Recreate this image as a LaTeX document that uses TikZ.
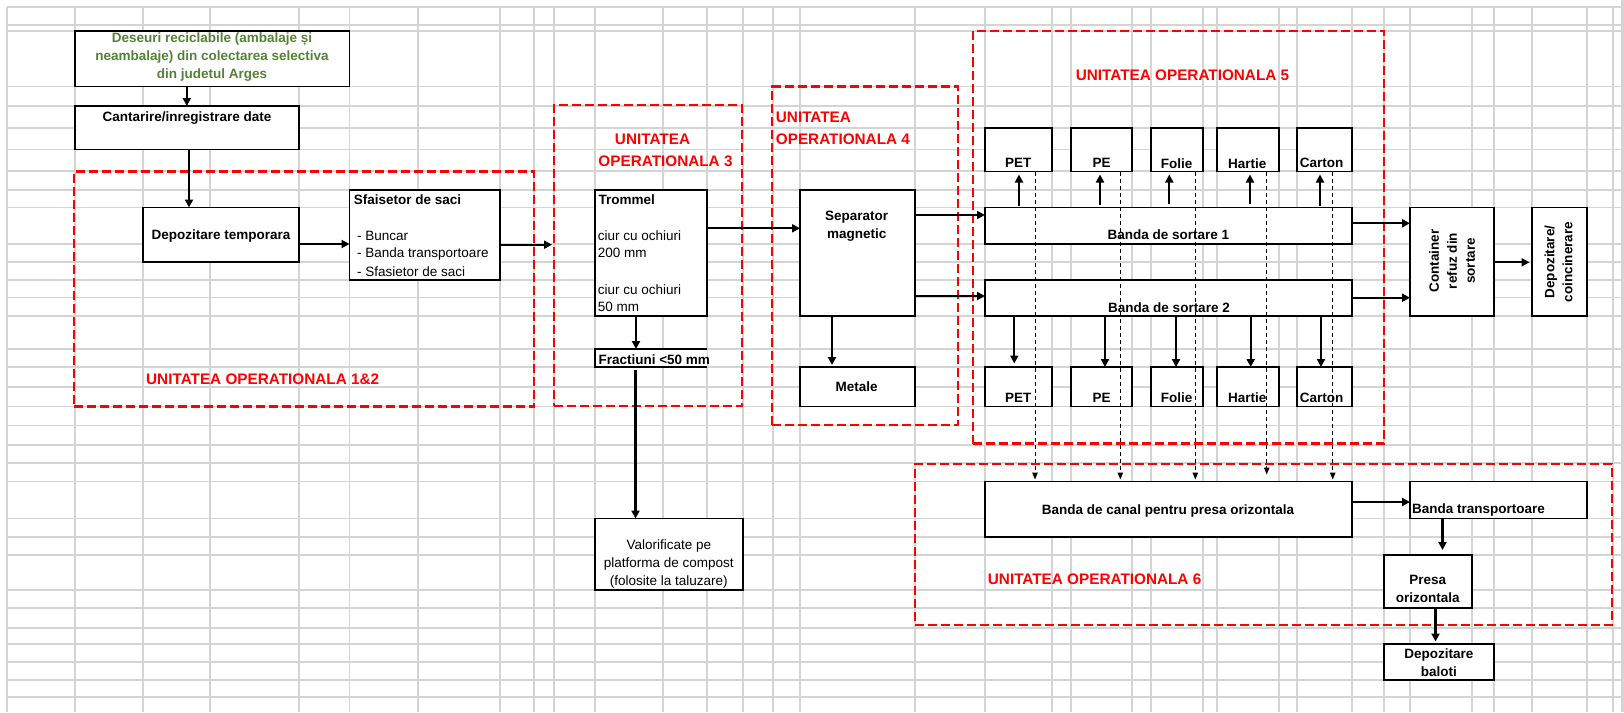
\documentclass[tikz,border=0pt]{standalone}
\usepackage{fontspec}
\setmainfont{Liberation Sans}
\usetikzlibrary{arrows.meta}
\definecolor{gridc}{RGB}{212,212,212}
\definecolor{olivegr}{RGB}{84,130,53}
\definecolor{uored}{RGB}{255,0,0}
\begin{document}
\begin{tikzpicture}[x=1pt,y=-1pt,
  box/.style={draw=black, line width=1.8pt, fill=white, inner sep=0pt, outer sep=0pt},
  openbox/.style={fill=white, inner sep=0pt, outer sep=0pt},
  uo/.style={draw=uored, line width=2.7pt, dash pattern=on 9pt off 4pt, inner sep=0pt, outer sep=0pt},
  arr/.style={line width=2.3pt, -{Triangle[length=8pt,width=8pt]}},
  darr/.style={line width=1pt, dash pattern=on 4pt off 3pt, -{Triangle[length=7pt,width=5.5pt]}},
  gridline/.style={draw=gridc, line width=1.3pt},
  btxt/.style={inner sep=0pt, font=\fontsize{13.5}{18}\selectfont\bfseries, align=center},
  ntxt/.style={inner sep=0pt, font=\fontsize{13.5}{18}\selectfont, align=center},
  uolbl/.style={inner sep=0pt, text=uored, font=\fontsize{15.3}{21}\selectfont\bfseries}
]
\fill[white] (0,0) rectangle (1624,712);
\useasboundingbox (0,0) rectangle (1624,712);
% spreadsheet grid
\foreach \gx in {7,75,143,210,299,349.5,418,500,534,554,595,663,707,743,773,800,915,985,1052,1071,1132,1151,1203,1217,1279,1297,1352,1384,1410,1472,1494,1532,1587,1613}
  \draw[gridline] (\gx,6.5) -- (\gx,712);
\foreach \gy in {7,25,31,86.5,106,128,149.5,171,190,207.5,244,262,280,297.5,316,349,367,387,406.5,425.5,445,463,481.5,518.5,537,555,590,608,628,644,662,680,697}
  \draw[gridline] (6.5,\gy) -- (1622,\gy);
\draw[draw=gridc, line width=2.5pt] (1622.5,0) -- (1622.5,712);

% operational units
\node[uo, minimum width=460pt, minimum height=235pt, anchor=north west] (uo12) at (74,171.5) {};
\node[uo, minimum width=188pt, minimum height=301pt, anchor=north west] (uo3) at (554,105) {};
\node[uo, minimum width=186pt, minimum height=338.5pt, anchor=north west] (uo4) at (772,86.5) {};
\node[uo, minimum width=411pt, minimum height=412.5pt, anchor=north west] (uo5) at (973,31) {};
\node[uo, minimum width=697pt, minimum height=161pt, anchor=north west] (uo6) at (915,464) {};

% boxes
\node[box, minimum width=274.5pt, minimum height=55.5pt] (des) at (212.25,58.75) {};
\node[box, minimum width=224pt, minimum height=43.5pt] (cant) at (187,127.75) {};
\node[box, minimum width=156pt, minimum height=54.5pt] (depo) at (221,234.75) {};
\node[box, minimum width=150.5pt, minimum height=90pt] (sfai) at (424.75,235) {};
\node[box, minimum width=112pt, minimum height=126pt] (trom) at (651,253) {};
\node[openbox, minimum width=112pt, minimum height=18pt] (frac) at (651,358) {};
\draw[line width=1.8pt] (frac.north east) -- (frac.north west) -- (frac.south west) -- (frac.south east);
\node[box, minimum width=148pt, minimum height=71.5pt] (valo) at (669,554.25) {};
\node[box, minimum width=115pt, minimum height=126pt] (sep) at (857.5,253) {};
\node[box, minimum width=115pt, minimum height=39.5pt] (metale) at (857.5,386.75) {};
\node[box, minimum width=367pt, minimum height=36.5pt] (b1) at (1168.5,225.75) {};
\node[box, minimum width=367pt, minimum height=36pt] (b2) at (1168.5,298) {};
\node[box, minimum width=67pt, minimum height=43.5pt] (petA) at (1018.5,149.75) {};
\node[box, minimum width=61pt, minimum height=43.5pt] (peA) at (1101.5,149.75) {};
\node[box, minimum width=52pt, minimum height=43.5pt] (folA) at (1177,149.75) {};
\node[box, minimum width=62pt, minimum height=43.5pt] (harA) at (1248,149.75) {};
\node[box, minimum width=55pt, minimum height=43.5pt] (carA) at (1324.5,149.75) {};
\node[box, minimum width=67pt, minimum height=39.5pt] (petB) at (1018.5,386.75) {};
\node[box, minimum width=61pt, minimum height=39.5pt] (peB) at (1101.5,386.75) {};
\node[box, minimum width=52pt, minimum height=39.5pt] (folB) at (1177,386.75) {};
\node[box, minimum width=62pt, minimum height=39.5pt] (harB) at (1248,386.75) {};
\node[box, minimum width=55pt, minimum height=39.5pt] (carB) at (1324.5,386.75) {};
\node[box, minimum width=84pt, minimum height=108.5pt] (cont) at (1452,261.75) {};
\node[box, minimum width=55pt, minimum height=108.5pt] (dc) at (1559.5,261.75) {};
\node[box, minimum width=367pt, minimum height=55.5pt] (bcanal) at (1168.5,509.25) {};
\node[box, minimum width=177pt, minimum height=37pt] (btrans) at (1498.5,500) {};
\node[box, minimum width=88pt, minimum height=53pt] (presa) at (1428,581.5) {};
\node[box, minimum width=110pt, minimum height=36pt] (baloti) at (1439,662) {};

% arrows
\draw[arr] (186.8,0 |- des.south) -- (186.8,0 |- cant.north);
\draw[arr] (189,0 |- cant.south) -- (189,0 |- depo.north);
\draw[arr] (depo.east |- 0,244) -- (sfai.west |- 0,244);
\draw[arr, shorten >=2pt] (sfai.east |- 0,244.7) -- (uo3.west |- 0,244.7);
\draw[arr] (trom.east |- 0,228.3) -- (sep.west |- 0,228.3);
\draw[arr] (636,0 |- trom.south) -- (636,0 |- frac.north);
\draw[arr, shorten <=3pt] (635.5,0 |- frac.south) -- (635.5,0 |- valo.north);
\draw[arr, shorten >=2pt] (832,0 |- sep.south) -- (832,0 |- metale.north);
\draw[arr] (sep.east |- 0,215) -- (b1.west |- 0,215);
\draw[arr] (sep.east |- 0,296) -- (b2.west |- 0,296);
\draw[arr, shorten <=2pt, shorten >=3pt] (1019,0 |- b1.north) -- (1019,0 |- petA.south);
\draw[arr, shorten <=3pt, shorten >=3pt] (1100,0 |- b1.north) -- (1100,0 |- peA.south);
\draw[arr, shorten <=4pt, shorten >=3pt] (1169.3,0 |- b1.north) -- (1169.3,0 |- folA.south);
\draw[arr, shorten <=3.5pt, shorten >=3pt] (1250,0 |- b1.north) -- (1250,0 |- harA.south);
\draw[arr, shorten <=2pt, shorten >=3pt] (1320,0 |- b1.north) -- (1320,0 |- carA.south);
\draw[arr, shorten >=3.5pt] (1014.3,0 |- b2.south) -- (1014.3,0 |- petB.north);
\draw[arr] (1105,0 |- b2.south) -- (1105,0 |- peB.north);
\draw[arr] (1176,0 |- b2.south) -- (1176,0 |- folB.north);
\draw[arr] (1250.7,0 |- b2.south) -- (1250.7,0 |- harB.north);
\draw[arr] (1321,0 |- b2.south) -- (1321,0 |- carB.north);
\draw[darr, shorten >=2pt] (1035,0 |- petA.south) -- (1035,0 |- bcanal.north);
\draw[darr, shorten >=2pt] (1120.3,0 |- peA.south) -- (1120.3,0 |- bcanal.north);
\draw[darr, shorten >=2pt] (1195.3,0 |- folA.south) -- (1195.3,0 |- bcanal.north);
\draw[darr, shorten >=7pt] (1266.7,0 |- harA.south) -- (1266.7,0 |- bcanal.north);
\draw[darr, shorten >=2pt] (1332.7,0 |- carA.south) -- (1332.7,0 |- bcanal.north);
\draw[arr] (b1.east |- 0,223.3) -- (cont.west |- 0,223.3);
\draw[arr] (b2.east |- 0,297.7) -- (cont.west |- 0,297.7);
\draw[arr, shorten >=2.5pt] (cont.east |- 0,262.3) -- (dc.west |- 0,262.3);
\draw[arr] (bcanal.east |- 0,502) -- (btrans.west |- 0,502);
\draw[arr, shorten >=5pt] (1442.5,0 |- btrans.south) -- (1442.5,0 |- presa.north);
\draw[arr, shorten >=2.5pt] (1435.5,0 |- presa.south) -- (1435.5,0 |- baloti.north);

% texts
\node[btxt, text=olivegr] (desT) at (212,57.3) {Deseuri reciclabile (ambalaje și\\neambalaje) din colectarea selectiva\\din judetul Arges};
\node[btxt] (cantT) at (187,118.3) {Cantarire/inregistrare date};
\node[btxt] (depoT) at (221,235.7) {Depozitare temporara};
\node[btxt, anchor=west] (sfaiT) at (353.6,199.3) {Sfaisetor de saci};
\node[ntxt, anchor=west] (sfaiL1) at (357,235.7) {- Buncar};
\node[ntxt, anchor=west] (sfaiL2) at (357,253.7) {- Banda transportoare};
\node[ntxt, anchor=west] (sfaiL3) at (357,271.7) {- Sfasietor de saci};
\node[btxt, anchor=west] (tromT) at (598.3,199.3) {Trommel};
\node[ntxt, anchor=west] (tromL1) at (597.7,235.3) {ciur cu ochiuri};
\node[ntxt, anchor=west] (tromL2) at (597.7,253.3) {200 mm};
\node[ntxt, anchor=west] (tromL3) at (597.7,289.3) {ciur cu ochiuri};
\node[ntxt, anchor=west] (tromL4) at (597.7,307.3) {50 mm};
\node[btxt, anchor=west] (fracT) at (598.3,359.3) {Fractiuni <50 mm};
\node[ntxt] (valoT) at (668.8,563.7) {Valorificate pe\\platforma de compost\\(folosite la taluzare)};
\node[btxt] (sepT) at (856.7,226.3) {Separator\\magnetic};
\node[btxt] (metT) at (856.7,387) {Metale};
\node[btxt] (petAT) at (1018.3,163.3) {PET};
\node[btxt] (peAT) at (1101.7,163.3) {PE};
\node[btxt] (folAT) at (1176.7,163.3) {Folie};
\node[btxt] (harAT) at (1247.3,163.3) {Hartie};
\node[btxt] (carAT) at (1321.7,163.3) {Carton};
\node[btxt] (petBT) at (1018.3,397.7) {PET};
\node[btxt] (peBT) at (1101.7,397.7) {PE};
\node[btxt] (folBT) at (1176.7,397.7) {Folie};
\node[btxt] (harBT) at (1247.3,397.7) {Hartie};
\node[btxt] (carBT) at (1321.7,397.7) {Carton};
\node[btxt] (b1T) at (1168.3,235) {Banda de sortare 1};
\node[btxt] (b2T) at (1169,307.3) {Banda de sortare 2};
\node[btxt, rotate=90] (contT) at (1452,261) {Container\\refuz din\\sortare};
\node[btxt, rotate=90] (dcT) at (1558.5,262) {Depozitare/\\coincinerare};
\node[btxt] (bcanalT) at (1168,510.7) {Banda de canal pentru presa orizontala};
\node[btxt, anchor=west] (btransT) at (1412,510.3) {Banda transportoare};
\node[btxt] (presaT) at (1427.7,589.3) {Presa\\orizontala};
\node[btxt] (balotiT) at (1438.8,662.8) {Depozitare\\baloti};

% unit labels
\node[uolbl, anchor=west] (uo12T) at (146,379) {UNITATEA OPERATIONALA 1\&2};
\node[uolbl] (uo3Ta) at (652.5,139.3) {UNITATEA};
\node[uolbl] (uo3Tb) at (665.5,161) {OPERATIONALA 3};
\node[uolbl, anchor=west] (uo4Ta) at (775.7,117.3) {UNITATEA};
\node[uolbl, anchor=west] (uo4Tb) at (775.7,139.3) {OPERATIONALA 4};
\node[uolbl] (uo5T) at (1182.5,75) {UNITATEA OPERATIONALA 5};
\node[uolbl, anchor=west] (uo6T) at (987.7,579.3) {UNITATEA OPERATIONALA 6};
\end{tikzpicture}
\end{document}
